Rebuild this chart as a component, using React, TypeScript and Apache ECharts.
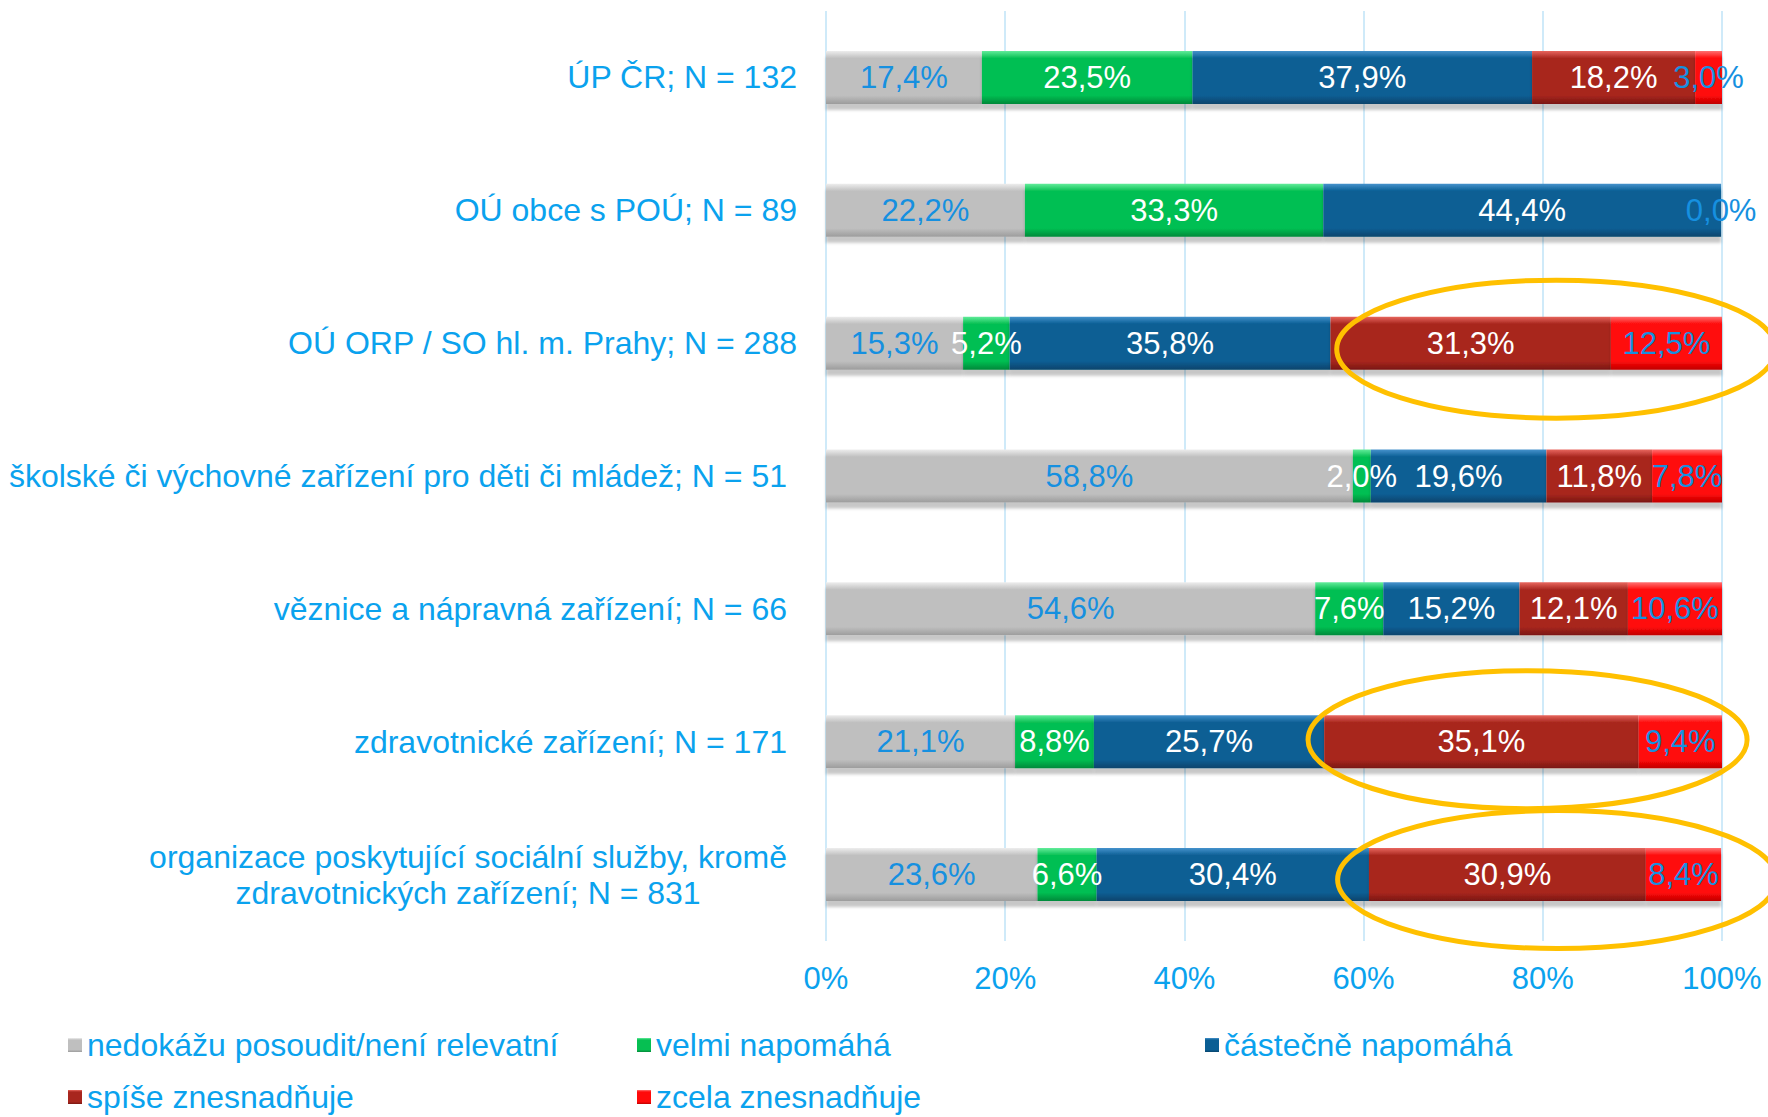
import React, { useEffect, useRef } from 'react';
import * as echarts from 'echarts';

const categories = [
  'ÚP ČR; N = 132',
  'OÚ obce s POÚ; N = 89',
  'OÚ ORP / SO hl. m. Prahy; N = 288',
  'školské či výchovné zařízení pro děti či mládež; N = 51',
  'věznice a nápravná zařízení; N = 66',
  'zdravotnické zařízení; N = 171',
  'organizace poskytující sociální služby, kromě\nzdravotnických zařízení; N = 831',
];

const seriesNames = [
  'nedokážu posoudit/není relevatní',
  'velmi napomáhá',
  'částečně napomáhá',
  'spíše znesnadňuje',
  'zcela znesnadňuje',
];

const nedokazu = [17.4, 22.2, 15.3, 58.8, 54.6, 21.1, 23.6];
const velmi = [23.5, 33.3, 5.2, 2.0, 7.6, 8.8, 6.6];
const castecne = [37.9, 44.4, 35.8, 19.6, 15.2, 25.7, 30.4];
const spise = [18.2, 0, 31.3, 11.8, 12.1, 35.1, 30.9];
const zcela = [3.0, 0, 12.5, 7.8, 10.6, 9.4, 8.4];

const xTicks = [0, 20, 40, 60, 80, 100];

// highlighted rows (annotation ellipses)
const highlightRows = [2, 5, 6];
const highlightCenterX = [81.5, 78.3, 81.6];

const FONT = '"Liberation Sans", Arial, sans-serif';
const TEXT_BLUE = '#0AA2EE';
const LABEL_BLUE = '#1690E0';

const palettes = [
  { top: '#EDEDED', base: '#BFBFBF', bottom: '#9C9C9C', label: LABEL_BLUE },
  { top: '#62EC9A', base: '#06BF52', bottom: '#04893A', label: '#FFFFFF' },
  { top: '#4592CC', base: '#0A5E94', bottom: '#07446C', label: '#FFFFFF' },
  { top: '#E8665E', base: '#A8261E', bottom: '#7A1712', label: '#FFFFFF' },
  { top: '#FF7070', base: '#FF0A0A', bottom: '#C00000', label: LABEL_BLUE },
];

function grad(p: { top: string; base: string; bottom: string }) {
  return new echarts.graphic.LinearGradient(0, 0, 0, 1, [
    { offset: 0, color: p.top },
    { offset: 0.14, color: p.base },
    { offset: 0.84, color: p.base },
    { offset: 1, color: p.bottom },
  ]);
}

const fmtPct = (v: number) => v.toFixed(1).replace('.', ',') + '%';

export default function App() {
  const ref = useRef<HTMLDivElement>(null);

  useEffect(() => {
    document.body.style.margin = '0';
    document.body.style.overflow = 'hidden';
    if (!ref.current) return;
    const chart = echarts.init(ref.current, undefined, { renderer: 'svg' });
    const values = [nedokazu, velmi, castecne, spise, zcela];

    const series = values.map((arr, si) => ({
      name: seriesNames[si],
      type: 'bar',
      stack: 'total',
      barWidth: 53,
      data: arr,
      itemStyle: {
        color: grad(palettes[si]),
        shadowColor: 'rgba(0,0,0,0.22)',
        shadowBlur: 3,
        shadowOffsetY: 6,
      },
      label: {
        show: true,
        position: 'inside',
        fontFamily: FONT,
        fontSize: 31,
        color: palettes[si].label,
        formatter: (p: any) =>
          p.value === 0 && si !== values.length - 1 ? '' : fmtPct(p.value),
      },
    }));

    const legendPos = [
      { left: 68, top: 1029 },
      { left: 637, top: 1029 },
      { left: 1205, top: 1029 },
      { left: 68, top: 1081 },
      { left: 637, top: 1081 },
    ];

    const legends = seriesNames.map((n, i) => ({
      data: [n],
      left: legendPos[i].left,
      top: legendPos[i].top,
      padding: 0,
      icon: 'rect',
      itemWidth: 14,
      itemHeight: 14,
      selectedMode: false,
      textStyle: { fontFamily: FONT, fontSize: 32, color: TEXT_BLUE, lineHeight: 30 },
    }));

    chart.setOption({
      animation: false,
      backgroundColor: '#FFFFFF',
      grid: { left: 826, right: 46, top: 11, bottom: 176, containLabel: false },
      xAxis: {
        type: 'value',
        min: xTicks[0],
        max: xTicks[xTicks.length - 1],
        interval: xTicks[1] - xTicks[0],
        axisLine: { show: false },
        axisTick: { show: false },
        splitLine: { show: true, lineStyle: { color: '#BFE3F7', width: 1.5 } },
        axisLabel: {
          formatter: '{value}%',
          fontFamily: FONT,
          fontSize: 31,
          color: TEXT_BLUE,
          margin: 22,
        },
      },
      yAxis: {
        type: 'category',
        inverse: true,
        data: categories,
        axisLine: { show: false },
        axisTick: { show: false },
        splitLine: { show: false },
        axisLabel: {
          margin: 29,
          fontFamily: FONT,
          fontSize: 32,
          color: TEXT_BLUE,
          align: 'right',
          formatter: (v: string, i: number) =>
            v.includes('\n') ? `{c|${v}}` : i >= 3 ? `{p|${v}}` : `{n|${v}}`,
          rich: {
            n: { fontFamily: FONT, fontSize: 32, color: TEXT_BLUE },
            p: { fontFamily: FONT, fontSize: 32, color: TEXT_BLUE, padding: [0, 10, 0, 0] },
            c: {
              fontFamily: FONT,
              fontSize: 32,
              color: TEXT_BLUE,
              align: 'center',
              lineHeight: 36,
              padding: [0, 10, 0, 0],
            },
          },
        },
      },
      legend: legends,
      series,
    });

    // annotation ellipses anchored to the highlighted rows
    const graphics = highlightRows.map((row, k) => {
      const c = chart.convertToPixel({ xAxisIndex: 0, yAxisIndex: 0 } as any, [
        highlightCenterX[k],
        categories[row],
      ]) as number[];
      const x0 = chart.convertToPixel({ xAxisIndex: 0 } as any, 0) as number;
      const x1 = chart.convertToPixel({ xAxisIndex: 0 } as any, 24.5) as number;
      return {
        type: 'ellipse',
        z: 100,
        silent: true,
        shape: { cx: c[0], cy: c[1] + (k === 0 ? 6 : k === 1 ? -2 : 5), rx: x1 - x0, ry: 69 },
        style: { fill: 'none', stroke: '#FFC000', lineWidth: 5 },
      };
    });
    chart.setOption({ graphic: graphics });

    return () => chart.dispose();
  }, []);

  return <div ref={ref} style={{ width: 1768, height: 1117 }} />;
}
